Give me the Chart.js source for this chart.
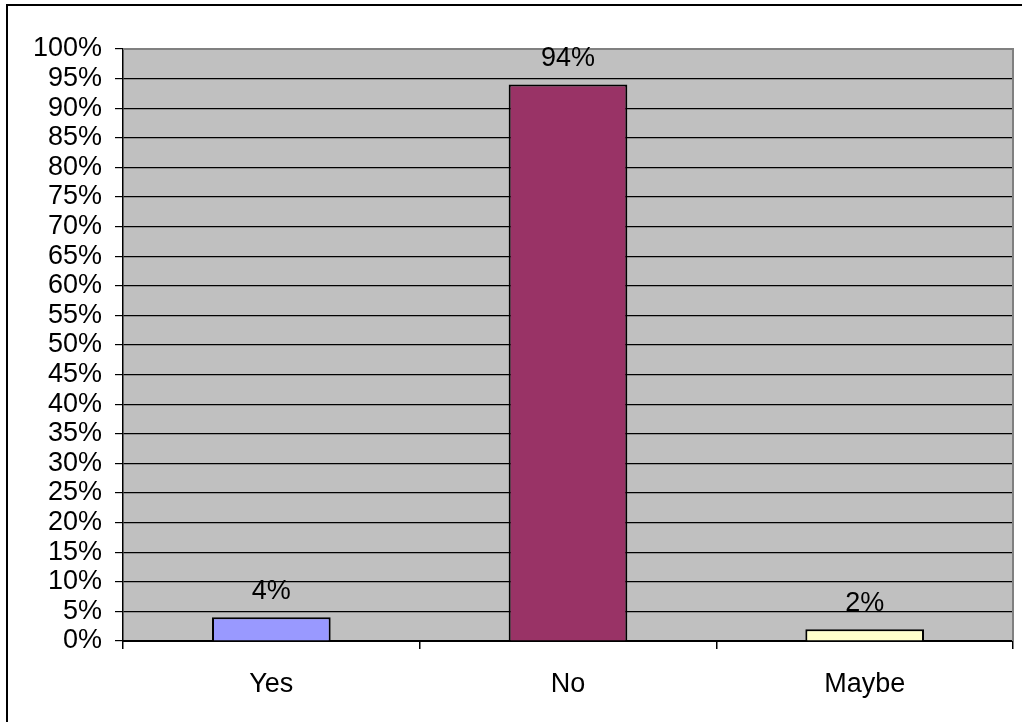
<!DOCTYPE html>
<html lang="en">
<head>
  <meta charset="UTF-8">
  <title>Yes / No / Maybe</title>
  <script src="https://cdn.jsdelivr.net/npm/chart.js"></script>
  <style>
    html, body { margin: 0; padding: 0; background: #fff; }
    #wrap { position: relative; width: 1022px; height: 722px; }
  </style>
</head>
<body>
  <div id="wrap">
    <canvas id="myBarChart" width="1022" height="722"></canvas>
  </div>
<script>
  const categories = ['Yes', 'No', 'Maybe'];
  const answers = [4, 94, 2];
  const barColors = ['#9999FF', '#993366', '#FFFFCC'];
  const yTicks = [0, 5, 10, 15, 20, 25, 30, 35, 40, 45, 50, 55, 60, 65, 70, 75, 80, 85, 90, 95, 100];

  const fontFamily = '"Liberation Sans", Arial, sans-serif';
  const fontSize = 27;

  // gray plot area + borders, outer frame
  const plotBackground = {
    id: 'plotBackground',
    beforeDraw(chart) {
      const c = chart.ctx, a = chart.chartArea;
      c.save();
      c.fillStyle = '#fff';
      c.fillRect(0, 0, chart.width, chart.height);
      c.strokeStyle = '#000';
      c.lineWidth = 2;
      c.beginPath();
      c.moveTo(7, chart.height + 2);
      c.lineTo(7, 5);
      c.lineTo(chart.width + 2, 5);
      c.stroke();
      c.fillStyle = '#C0C0C0';
      c.fillRect(a.left, a.top, a.right - a.left, a.bottom - a.top);
      c.restore();
    },
    beforeDatasetsDraw(chart) {
      const c = chart.ctx, a = chart.chartArea;
      c.save();
      c.strokeStyle = '#808080';
      c.lineWidth = 2;
      c.beginPath();
      c.moveTo(a.left, a.top);
      c.lineTo(a.right, a.top);
      c.lineTo(a.right, a.bottom);
      c.stroke();
      c.restore();
    }
  };

  const valueLabels = {
    id: 'valueLabels',
    afterDatasetsDraw(chart) {
      const c = chart.ctx;
      const meta = chart.getDatasetMeta(0);
      c.save();
      c.font = fontSize + 'px ' + fontFamily;
      c.fillStyle = '#000';
      c.textAlign = 'center';
      c.textBaseline = 'middle';
      meta.data.forEach((bar, i) => {
        c.fillText(answers[i] + '%', bar.x, bar.y - 26);
      });
      c.restore();
    }
  };

  const ctx = document.getElementById('myBarChart').getContext('2d');
  const myChart = new Chart(ctx, {
    type: 'bar',
    data: {
      labels: categories,
      datasets: [{
        data: answers,
        backgroundColor: barColors,
        borderColor: '#000',
        borderWidth: 2,
        barPercentage: 0.4,
        categoryPercentage: 1
      }]
    },
    options: {
      responsive: false,
      animation: false,
      layout: { padding: { top: 49, right: 9, left: 0, bottom: 0 } },
      plugins: {
        legend: { display: false },
        tooltip: { enabled: false }
      },
      scales: {
        x: {
          offset: true,
          afterFit(scale) { scale.height = 81; },
          border: { color: '#000', width: 2 },
          grid: {
            offset: true,
            drawOnChartArea: false,
            color: '#000',
            tickLength: 8,
            lineWidth: 1.5
          },
          ticks: {
            color: '#000',
            padding: 19,
            font: { size: fontSize, family: fontFamily }
          }
        },
        y: {
          min: 0,
          max: 100,
          afterFit(scale) { scale.width = 123; },
          afterBuildTicks(scale) { scale.ticks = yTicks.map(v => ({ value: v })); },
          border: { color: '#000', width: 1.5 },
          grid: {
            color: '#000',
            lineWidth: 1.2,
            tickLength: 8
          },
          ticks: {
            color: '#000',
            padding: 13,
            autoSkip: false,
            font: { size: fontSize, family: fontFamily },
            callback: v => v + '%'
          }
        }
      }
    },
    plugins: [plotBackground, valueLabels]
  });
</script>
</body>
</html>
